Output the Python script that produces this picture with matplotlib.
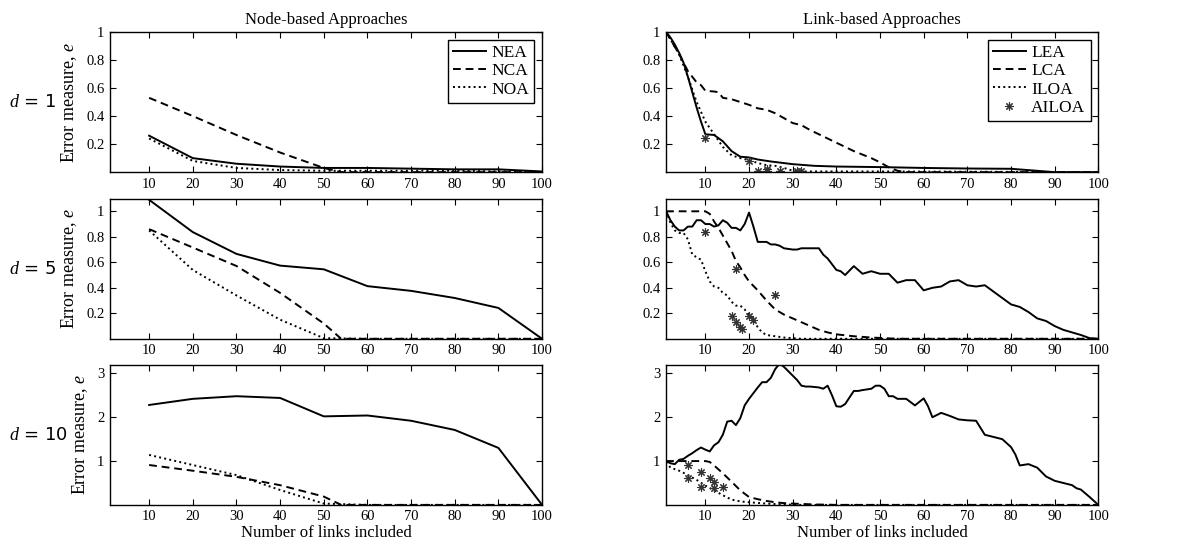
import numpy as np
import matplotlib
matplotlib.use("Agg")
import matplotlib.pyplot as plt

plt.rcParams['font.family'] = ['Liberation Serif', 'DejaVu Serif']
plt.rcParams['mathtext.fontset'] = 'custom'
plt.rcParams['mathtext.it'] = 'Liberation Serif:italic'
plt.rcParams['mathtext.rm'] = 'Liberation Serif'

# ---- node-based approaches (x in links included) ----
node_x = [10, 20, 30, 40, 50, 60, 70, 80, 90, 100]
nca_x = [10, 20, 30, 40, 50, 54, 60, 70, 80, 90, 100]

nea_d1 = [0.26, 0.10, 0.06, 0.04, 0.03, 0.03, 0.025, 0.02, 0.02, 0.005]
nca_d1 = [0.53, 0.40, 0.265, 0.14, 0.03, 0.0, 0.0, 0.0, 0.0, 0.0, 0.0]
noa_d1 = [0.24, 0.08, 0.03, 0.015, 0.01, 0.01, 0.01, 0.01, 0.005, 0.0]

nea_d5 = [1.09, 0.837, 0.666, 0.574, 0.545, 0.413, 0.376, 0.32, 0.242, 0.0]
nca_d5 = [0.86, 0.716, 0.571, 0.36, 0.12, 0.0, 0.0, 0.0, 0.0, 0.0, 0.0]
noa_d5 = [0.85, 0.54, 0.34, 0.15, 0.005, 0.0, 0.0, 0.0, 0.0, 0.0]

nea_d10 = [2.28, 2.42, 2.48, 2.44, 2.02, 2.04, 1.92, 1.71, 1.30, 0.0]
nca_d10 = [0.91, 0.78, 0.64, 0.45, 0.19, 0.0, 0.0, 0.0, 0.0, 0.0, 0.0]
noa_d10 = [1.14, 0.91, 0.68, 0.34, 0.03, 0.0, 0.0, 0.0, 0.0, 0.0]

# ---- link-based approaches, d = 1 ----
lea1_x = [1, 2, 3, 4, 5, 6, 7, 8, 9, 10, 12, 14, 16, 18, 20, 22, 25, 30, 35, 40,
          50, 60, 70, 80, 85, 90, 100]
lea1_y = [1.0, 0.96, 0.91, 0.85, 0.78, 0.68, 0.57, 0.46, 0.36, 0.27, 0.265, 0.22,
          0.15, 0.11, 0.105, 0.09, 0.076, 0.057, 0.045, 0.04, 0.036, 0.03, 0.026,
          0.024, 0.012, 0.0, 0.0]
lca1_x = [1, 4, 6, 8, 9, 10, 12, 13, 14, 16, 18, 20, 22, 24, 26, 28, 30, 32, 34,
          36, 38, 40, 42, 44, 46, 48, 50, 52, 54, 56, 100]
lca1_y = [1.0, 0.84, 0.72, 0.64, 0.62, 0.58, 0.575, 0.57, 0.53, 0.52, 0.50, 0.48,
          0.455, 0.445, 0.42, 0.385, 0.35, 0.335, 0.30, 0.27, 0.24, 0.21, 0.18,
          0.15, 0.125, 0.10, 0.07, 0.035, 0.01, 0.0, 0.0]
iloa1_x = [1, 4, 6, 8, 10, 12, 14, 16, 18, 20, 22, 24, 26, 28, 30, 32, 50, 100]
iloa1_y = [1.0, 0.84, 0.68, 0.50, 0.36, 0.27, 0.18, 0.12, 0.10, 0.085, 0.065,
           0.05, 0.045, 0.03, 0.01, 0.005, 0.005, 0.0]
ailoa1_x = [10, 20, 22, 24, 24, 27, 31, 32]
ailoa1_y = [0.24, 0.08, 0.01, 0.02, 0.005, 0.01, 0.005, 0.005]

# ---- link-based approaches, d = 5 ----
lea5_x = [1, 2, 3, 4, 5, 6, 7, 8, 9, 10, 11, 12, 13, 14, 15, 16, 17, 18, 19, 20,
          21, 22, 23, 24, 25, 26, 27, 28, 30, 31, 32, 34, 36, 37, 38, 40, 41, 42,
          44, 46, 48, 50, 52, 54, 56, 58, 60, 62, 64, 66, 68, 70, 72, 74, 76, 78,
          80, 82, 84, 86, 88, 90, 92, 94, 96, 98, 100]
lea5_y = [1.0, 0.93, 0.88, 0.85, 0.85, 0.88, 0.88, 0.93, 0.93, 0.90, 0.90, 0.88,
          0.89, 0.93, 0.91, 0.87, 0.87, 0.85, 0.90, 0.99, 0.88, 0.76, 0.76, 0.76,
          0.74, 0.74, 0.73, 0.71, 0.70, 0.70, 0.71, 0.71, 0.71, 0.66, 0.63, 0.54,
          0.53, 0.50, 0.57, 0.51, 0.53, 0.51, 0.51, 0.44, 0.46, 0.46, 0.38, 0.40,
          0.41, 0.45, 0.46, 0.42, 0.41, 0.42, 0.37, 0.32, 0.27, 0.25, 0.21, 0.16,
          0.14, 0.10, 0.07, 0.05, 0.03, 0.005, 0.0]
lca5_x = [1, 10, 11, 12, 13, 14, 15, 16, 17, 18, 19, 20, 22, 24, 26, 28, 30, 32,
          34, 36, 38, 40, 44, 48, 54, 100]
lca5_y = [1.0, 1.0, 0.98, 0.92, 0.87, 0.81, 0.75, 0.69, 0.61, 0.56, 0.50, 0.45,
          0.38, 0.30, 0.23, 0.19, 0.16, 0.13, 0.10, 0.07, 0.05, 0.035, 0.02, 0.01,
          0.0, 0.0]
iloa5_x = [1, 2, 3, 4, 5, 6, 7, 8, 9, 10, 11, 12, 13, 14, 15, 16, 17, 18, 19, 20,
           21, 22, 23, 24, 26, 28, 30, 32, 100]
iloa5_y = [1.0, 0.91, 0.85, 0.83, 0.83, 0.78, 0.66, 0.64, 0.62, 0.53, 0.45, 0.41,
           0.40, 0.36, 0.34, 0.29, 0.26, 0.26, 0.23, 0.19, 0.15, 0.09, 0.05, 0.03,
           0.02, 0.01, 0.005, 0.0, 0.0]
ailoa5_x = [10, 17, 26, 16, 17, 18, 18.3, 20, 21]
ailoa5_y = [0.84, 0.55, 0.34, 0.18, 0.13, 0.09, 0.08, 0.18, 0.15]

# ---- link-based approaches, d = 10 ----
lea10_x = [1, 2, 3, 4, 5, 6, 7, 8, 9, 10, 11, 12, 13, 14, 15, 16, 17, 18, 19, 20,
           21, 22, 23, 24, 25, 26, 27, 28, 29, 30, 31, 32, 33, 34, 36, 37, 38, 39,
           40, 41, 42, 43, 44, 45, 46, 48, 49, 50, 51, 52, 53, 54, 56, 58, 60, 61,
           62, 64, 66, 68, 70, 72, 74, 76, 78, 80, 81, 82, 84, 86, 88, 90, 92, 94,
           95, 96, 98, 100]
lea10_y = [1.0, 0.95, 0.93, 1.03, 1.05, 1.12, 1.18, 1.25, 1.31, 1.26, 1.22, 1.36,
           1.43, 1.60, 1.90, 1.92, 1.82, 1.98, 2.27, 2.42, 2.55, 2.68, 2.80, 2.80,
           2.90, 3.10, 3.22, 3.15, 3.05, 2.95, 2.85, 2.72, 2.70, 2.70, 2.68, 2.65,
           2.72, 2.50, 2.25, 2.24, 2.30, 2.45, 2.60, 2.60, 2.62, 2.65, 2.72, 2.72,
           2.65, 2.48, 2.48, 2.42, 2.42, 2.27, 2.43, 2.25, 2.00, 2.10, 2.03, 1.95,
           1.93, 1.92, 1.60, 1.55, 1.50, 1.32, 1.15, 0.90, 0.93, 0.85, 0.65, 0.55,
           0.50, 0.45, 0.38, 0.35, 0.18, 0.0]
lca10_x = [1, 10, 11, 12, 14, 16, 18, 20, 22, 24, 26, 28, 30, 35, 40, 100]
lca10_y = [1.0, 1.0, 0.98, 0.90, 0.72, 0.53, 0.33, 0.18, 0.13, 0.09, 0.06, 0.04,
           0.03, 0.01, 0.0, 0.0]
iloa10_x = [1, 2, 4, 6, 8, 10, 12, 14, 16, 18, 20, 24, 28, 32, 100]
iloa10_y = [0.98, 0.85, 0.78, 0.68, 0.57, 0.44, 0.33, 0.22, 0.12, 0.08, 0.06, 0.03,
            0.01, 0.0, 0.0]
ailoa10_x = [6, 6, 9, 9, 11, 12, 12, 14]
ailoa10_y = [0.92, 0.61, 0.74, 0.41, 0.62, 0.53, 0.38, 0.40]

# ---- axis ticks ----
x_ticks = [10, 20, 30, 40, 50, 60, 70, 80, 90, 100]
y_ticks_small = [0.2, 0.4, 0.6, 0.8, 1]
y_labels_small = ['0.2', '0.4', '0.6', '0.8', '1']
y_ticks_big = [1, 2, 3]
y_labels_big = ['1', '2', '3']
y_tops = [1.0, 1.1, 3.2]
row_names = ['$\\mathit{d}$ = 1', '$\\mathit{d}$ = 5', '$\\mathit{d}$ = 10']

fig = plt.figure(figsize=(11.81, 5.5), dpi=100)

lefts = [0.093, 0.564]
width = 0.366
bottoms = [0.687, 0.384, 0.082]
height = 0.255

node_data = [(nea_d1, nca_d1, noa_d1), (nea_d5, nca_d5, noa_d5),
             (nea_d10, nca_d10, noa_d10)]
link_data = [
    (lea1_x, lea1_y, lca1_x, lca1_y, iloa1_x, iloa1_y, ailoa1_x, ailoa1_y),
    (lea5_x, lea5_y, lca5_x, lca5_y, iloa5_x, iloa5_y, ailoa5_x, ailoa5_y),
    (lea10_x, lea10_y, lca10_x, lca10_y, iloa10_x, iloa10_y, ailoa10_x, ailoa10_y),
]

star = (8, 2, 0)
leg_kw = dict(fancybox=False, edgecolor='k', fontsize=12.5, handlelength=1.9,
              borderpad=0.3, labelspacing=0.12, handletextpad=0.3,
              borderaxespad=0.45, framealpha=1)


def style_axis(ax, row):
    ax.set_xlim(1, 100)
    ax.set_ylim(0, y_tops[row])
    ax.set_xticks(x_ticks)
    if row < 2:
        ax.set_yticks(y_ticks_small)
        ax.set_yticklabels(y_labels_small)
    else:
        ax.set_yticks(y_ticks_big)
        ax.set_yticklabels(y_labels_big)
    ax.tick_params(direction='in', top=True, right=True, length=4, width=0.8,
                   labelsize=10.5, pad=4)
    for s in ax.spines.values():
        s.set_linewidth(1.0)


for row in range(3):
    ax = fig.add_axes([lefts[0], bottoms[row], width, height])
    nea, nca, noa = node_data[row]
    ax.plot(node_x, nea, 'k-', lw=1.4, label='NEA')
    ax.plot(nca_x, nca, 'k--', lw=1.4, label='NCA', dashes=(4, 2.5))
    ax.plot(node_x, noa, 'k:', lw=1.4, label='NOA')
    style_axis(ax, row)
    ax.set_ylabel('Error measure, $\\mathit{e}$', fontsize=13, labelpad=5)
    if row == 0:
        ax.set_title('Node-based Approaches', fontsize=12, pad=6)
        ax.legend(loc='upper right', **leg_kw)
    if row == 2:
        ax.set_xlabel('Number of links included', fontsize=12, labelpad=1)
    fig.text(0.008, bottoms[row] + height / 2, row_names[row], fontsize=13,
             va='center', ha='left', family='DejaVu Sans')

    ax2 = fig.add_axes([lefts[1], bottoms[row], width, height])
    lx, ly, cx, cy, ix, iy, ax_, ay = link_data[row]
    ax2.plot(lx, ly, 'k-', lw=1.4, label='LEA')
    ax2.plot(cx, cy, 'k--', lw=1.4, label='LCA', dashes=(4, 2.5))
    ax2.plot(ix, iy, 'k:', lw=1.4, label='ILOA')
    ax2.plot(ax_, ay, linestyle='none', marker=star, ms=6, mew=0.8,
             color='#333333', label='AILOA')
    style_axis(ax2, row)
    if row == 0:
        ax2.set_title('Link-based Approaches', fontsize=12, pad=6)
        ax2.legend(loc='upper right', **leg_kw)
    if row == 2:
        ax2.set_xlabel('Number of links included', fontsize=12, labelpad=1)

fig.savefig('out.png', dpi=100)
